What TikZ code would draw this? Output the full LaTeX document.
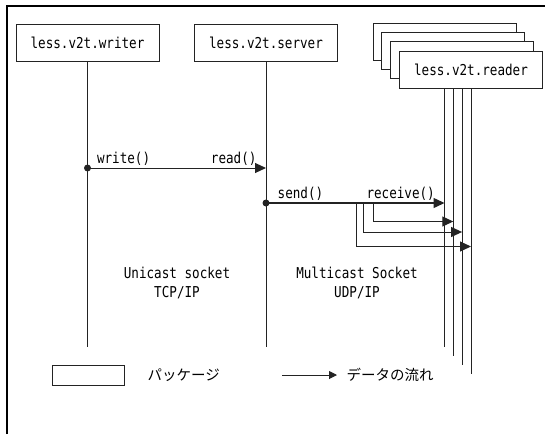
\documentclass[tikz,border=0pt]{standalone}
\usepackage{fontspec}
\newfontfamily\monofont[FakeStretch=0.84]{DejaVu Sans Mono}
\newfontfamily\jpfont{Noto Sans CJK JP}
\usetikzlibrary{positioning, arrows.meta}
\definecolor{ink}{RGB}{35, 35, 35}

\tikzset{
  pkg/.style={draw=ink, line width=1pt, fill=white, minimum width=143pt, minimum height=37pt, inner sep=0pt, font=\monofont\fontsize{15}{19}\selectfont},
  life/.style={draw=ink, line width=1pt},
  flow/.style={draw=ink, line width=1pt, -{Triangle[length=11pt, width=10pt]}},
  lbl/.style={inner sep=2pt, font=\monofont\fontsize{15}{19}\selectfont},
}

\begin{document}
\begin{tikzpicture}[x=1pt, y=-1pt]
\useasboundingbox (0,0) rectangle (545,434);
\draw[line width=2.5pt] (7,434) -- (7,6) -- (545,6);

\node[pkg] (writer) at (87.5,42.5) {less.v2t.writer};
\node[pkg] (server) at (266,42.5) {less.v2t.server};
\node[pkg] (reader0) at (444.5,42) {};
\node[pkg] (reader1) at (453.3,51.2) {};
\node[pkg] (reader2) at (462.1,60.4) {};
\node[pkg] (reader3) at (471,69.5) {less.v2t.reader};

\coordinate (writer end) at (writer.south |- 0,347);
\coordinate (server end) at (server.south |- 0,347);
\draw[life] (writer.south) -- (writer end);
\draw[life] (server.south) -- (server end);
\foreach \i/\y in {0/347, 1/356, 2/365, 3/374} {
    \coordinate (reader\i end) at (reader\i.south |- 0,\y);
    \draw[life] (reader\i.south |- reader3.south) -- (reader\i end);
}

\coordinate (write) at (writer.south |- 0,168);
\coordinate (read) at (server.south |- 0,168);
\fill[ink] (write) circle (3.5);
\draw[flow] (write) -- (read)
    node[lbl, pos=0, above right, xshift=7pt] (write lbl) {write()}
    node[lbl, above left, xshift=-7pt] (read lbl) {read()};

\coordinate (send) at (server.south |- 0,203);
\coordinate (receive) at (reader0.south |- 0,203);
\fill[ink] (send) circle (3.5);
\draw[flow, line width=1.4pt] (send) -- (receive)
    node[lbl, pos=0, above right, xshift=9pt] (send lbl) {send()}
    node[lbl, above left, xshift=-7pt] (receive lbl) {receive()};
\foreach \i/\x/\y in {1/373/221.5, 2/363/232, 3/356/246.5} {
    \coordinate (fork\i) at (\x,203);
    \coordinate (receive\i) at (reader\i.south |- 0,\y);
    \draw[flow] (fork\i) |- (receive\i);
}

\node[lbl, align=center] (unicast) at (177,283) {Unicast socket\\TCP/IP};
\node[lbl, align=center] (multicast) at (357,283) {Multicast Socket\\UDP/IP};

\node[draw=ink, line width=1pt, minimum width=72pt, minimum height=20pt] (legend box) at (88,375) {};
\node[anchor=west, font=\jpfont\fontsize{14.5}{16}\selectfont] (legend pkg) at (144,375) {パッケージ};
\coordinate (legend from) at (282,375);
\coordinate (legend to) at (337,375);
\draw[draw=ink, line width=1pt, -{Triangle[length=8pt, width=8pt]}] (legend from) -- (legend to);
\node[anchor=west, font=\jpfont\fontsize{14.5}{16}\selectfont] (legend flow) at (343,375) {データの流れ};
\end{tikzpicture}
\end{document}
